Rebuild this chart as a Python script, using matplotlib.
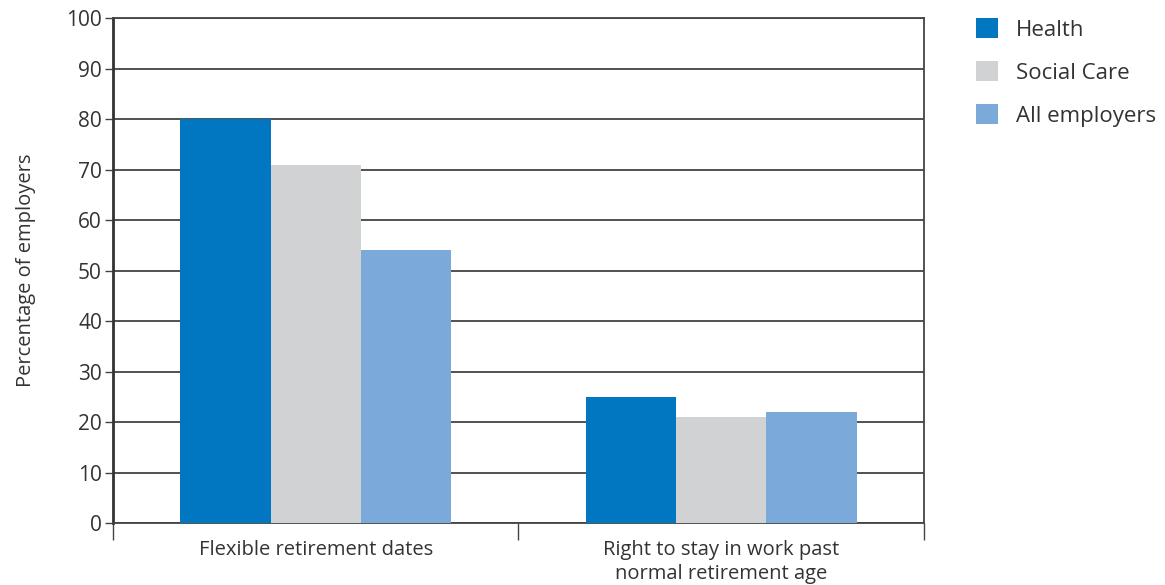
import matplotlib.pyplot as plt
import numpy as np

plt.rcParams['font.family'] = ['Open Sans', 'DejaVu Sans']

categories = ['Flexible retirement dates', 'Right to stay in work past\nnormal retirement age']
series_names = ['Health', 'Social Care', 'All employers']
health = [80, 25]
social_care = [71, 21]
all_employers = [54, 22]
colors = ['#0077c0', '#d1d2d4', '#7baada']

fig = plt.figure(figsize=(11.65, 5.85), dpi=100)
ax = fig.add_axes([0.097, 0.106, 0.696, 0.863])

x = np.arange(len(categories))
width = 0.223
for i, (vals, name) in enumerate(zip([health, social_care, all_employers], series_names)):
    ax.bar(x + (i - 1) * width, vals, width, color=colors[i], label=name, zorder=3)

ax.set_xlim(-0.5, len(categories) - 0.5)
ax.set_ylim(0, 100)
ax.set_yticks(range(0, 101, 10))
ax.yaxis.grid(True, color='#222222', linewidth=1.1, zorder=1)
ax.set_axisbelow(True)

# category labels centred, tick marks between the groups
ax.set_xticks(x)
ax.set_xticklabels(categories, fontsize=14.5, color='#333333', linespacing=1.3)
ax.set_xticks(np.arange(-0.5, len(categories), 1), minor=True)
ax.tick_params(axis='x', which='major', length=0, pad=12)
ax.tick_params(axis='x', which='minor', length=12, width=1, color='#444444')
ax.tick_params(axis='y', length=6, width=1, color='#444444', labelsize=15, labelcolor='#333333', pad=2)

for side in ['top', 'right', 'bottom']:
    ax.spines[side].set_color('#444444')
    ax.spines[side].set_linewidth(1.3)
ax.spines['left'].set_color('#333333')
ax.spines['left'].set_linewidth(2)

ax.set_ylabel('Percentage of employers', fontsize=14.5, color='#333333', labelpad=22)

ax.legend(loc='upper left', bbox_to_anchor=(1.064, 1.0),
          frameon=False, borderaxespad=0, borderpad=0,
          fontsize=16, handlelength=1.0, handleheight=1.0, labelspacing=0.92,
          handletextpad=0.8, labelcolor='#333333')

fig.savefig('out.png', dpi=100)
